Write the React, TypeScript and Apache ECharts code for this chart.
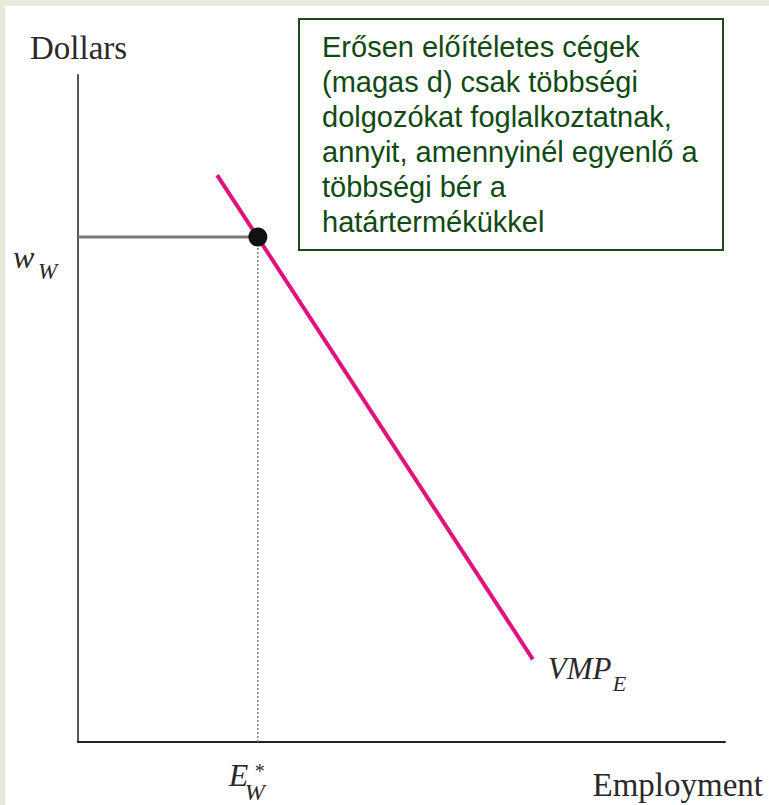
import React, { useEffect, useRef } from "react";
import * as echarts from "echarts";

// Axis ranges (abstract units)
const xRange = [0, 10];
const yRange = [0, 10];
// VMP_E demand curve endpoints
const vmpX = [2.15, 7.03];
const vmpY = [8.5, 1.24];
// equilibrium: wage of majority workers and employment
const wageW = 7.57;
const empW = 2.78;

const boxLines = [
  "Erősen előítéletes cégek",
  "(magas d) csak többségi",
  "dolgozókat foglalkoztatnak,",
  "annyit, amennyinél egyenlő a",
  "többségi bér a",
  "határtermékükkel",
];

const SERIF = "'Liberation Serif', 'Times New Roman', serif";
const SANS = "'Liberation Sans', Arial, sans-serif";
const PINK = "#E0137E";
const GREEN_TEXT = "#0f4a12";
const GREEN_BORDER = "#1d4a1d";

export default function App() {
  const ref = useRef<HTMLDivElement>(null);
  useEffect(() => {
    if (!ref.current) return;
    const chart = echarts.init(ref.current, null, { renderer: "svg" });
    const vmpData = vmpX.map((x, i) => [x, vmpY[i]]);
    chart.setOption({
      animation: false,
      backgroundColor: "#E9E9DC",
      grid: { left: 78, top: 75, right: 44, bottom: 63 },
      xAxis: {
        type: "value",
        min: xRange[0],
        max: xRange[1],
        axisLine: { show: true, onZero: false, lineStyle: { color: "#222", width: 2 } },
        axisTick: { show: false },
        axisLabel: { show: false },
        splitLine: { show: false },
      },
      yAxis: {
        type: "value",
        min: yRange[0],
        max: yRange[1],
        axisLine: { show: true, onZero: false, lineStyle: { color: "#555", width: 2 } },
        axisTick: { show: false },
        axisLabel: { show: false },
        splitLine: { show: false },
      },
      series: [
        {
          type: "line",
          name: "wage",
          data: [
            [xRange[0], wageW],
            [empW, wageW],
          ],
          symbol: "none",
          lineStyle: { color: "#7a7a7a", width: 3 },
          z: 3,
        },
        {
          type: "line",
          name: "emp",
          data: [
            [empW, yRange[0]],
            [empW, wageW],
          ],
          symbol: "none",
          lineStyle: { color: "#777", width: 1.5, type: [2, 2] },
          z: 3,
        },
        {
          type: "line",
          name: "VMP_E",
          data: vmpData,
          symbol: "none",
          lineStyle: { color: PINK, width: 4 },
          z: 4,
        },
        {
          type: "scatter",
          name: "eq",
          data: [[empW, wageW]],
          symbol: "circle",
          symbolSize: 19,
          itemStyle: { color: "#111", opacity: 1 },
          z: 5,
        },
      ],
    });

    const px = (p: number[]) => chart.convertToPixel({ gridIndex: 0 }, p) as number[];
    const yTop = px([xRange[0], yRange[1]]);
    const xEnd = px([xRange[1], yRange[0]]);
    const wPt = px([xRange[0], wageW]);
    const ePt = px([empW, yRange[0]]);
    const vEnd = px([vmpX[1], vmpY[1]]);

    const txt = (
      x: number,
      y: number,
      text: string,
      size: number,
      italic: boolean,
      align: string = "left"
    ) => ({
      type: "text",
      x,
      y,
      z: 20,
      style: {
        text,
        fill: "#2a2a2a",
        font: `${italic ? "italic " : ""}${size}px ${SERIF}`,
        align,
        verticalAlign: "middle",
      },
    });

    chart.setOption({
      graphic: [
        {
          type: "rect",
          z: -10,
          shape: { x: 5, y: 6, width: 769, height: 805 },
          style: { fill: "#ffffff" },
          silent: true,
        },
        txt(yTop[0] - 48, yTop[1] - 27.5, "Dollars", 33, false),
        txt(xEnd[0] + 38, xEnd[1] + 42.5, "Employment", 33, false, "right"),
        txt(wPt[0] - 65, wPt[1] + 20, "w", 32, true),
        txt(wPt[0] - 40, wPt[1] + 34, "W", 23, true),
        txt(ePt[0] - 29, ePt[1] + 32.8, "E", 32, true),
        txt(ePt[0] - 3, ePt[1] + 29, "*", 20, false),
        txt(ePt[0] - 13, ePt[1] + 50.3, "W", 24, true),
        txt(vEnd[0] + 15, vEnd[1] + 9, "VMP", 31, true),
        txt(vEnd[0] + 80, vEnd[1] + 24, "E", 22, true),
        {
          type: "rect",
          z: 15,
          shape: { x: 299, y: 19, width: 424, height: 231 },
          style: { fill: "#ffffff", stroke: GREEN_BORDER, lineWidth: 2 },
        },
        {
          type: "text",
          x: 322,
          y: 29,
          z: 16,
          style: {
            text: boxLines.join("\n"),
            fill: GREEN_TEXT,
            font: `29px ${SANS}`,
            lineHeight: 35,
            align: "left",
            verticalAlign: "top",
          },
        },
      ],
    });

    return () => chart.dispose();
  }, []);

  return (
    <div
      ref={ref}
      style={{ position: "fixed", left: 0, top: 0, width: 769, height: 805 }}
    />
  );
}
